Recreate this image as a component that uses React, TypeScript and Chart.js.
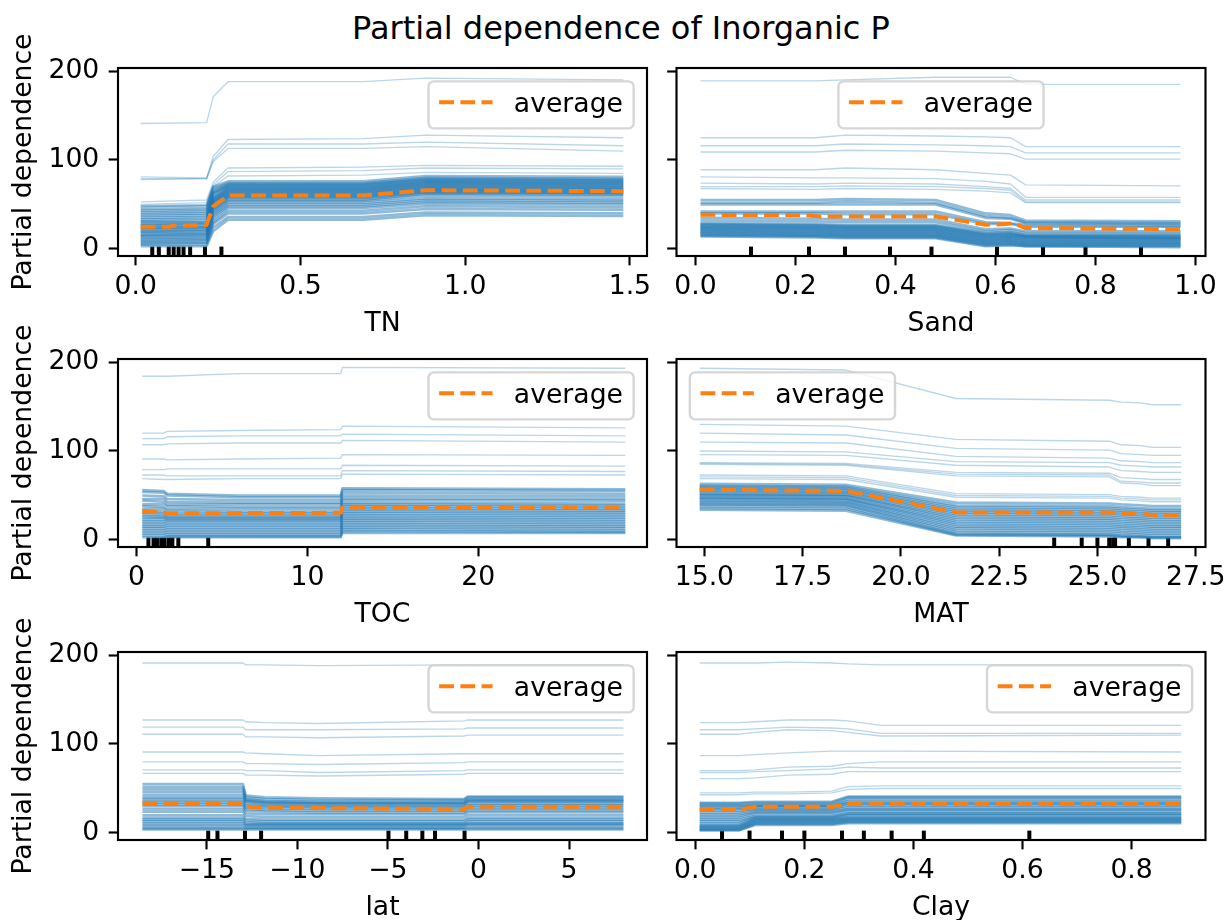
import React, { useEffect, useRef } from "react";
import { Chart, registerables } from "chart.js";

Chart.register(...registerables);

const FONT = "'DejaVu Sans', 'Liberation Sans', sans-serif";
const PT = 192 / 72;
const FS = 10 * PT;

// ---------------- data ----------------
const Y_TICKS = [0, 100, 200];
const Y_TICK_LABELS = ["0", "100", "200"];
const Y_MIN = -7.9;
const Y_MAX = 203.4;

// TN
const tnGrid = [0.015, 0.215, 0.235, 0.28, 0.69, 0.88, 1.48];
const tnOutliers = [
  [141, 142, 171, 188, 188, 192, 190],
  [81, 80, 104, 123, 124, 128, 125],
  [79, 79, 100, 118, 118, 120, 116],
  [78, 79, 98, 113, 113, 115, 110],
  [53, 55, 75, 91, 92, 94, 93],
  [50, 52, 72, 87, 88, 91, 90],
  [47, 49, 70, 82, 83, 86, 85],
];
const tnBand = [
  [3, 3, 20, 33, 33, 38, 37], [5, 5, 24, 36, 36, 41, 40], [6, 7, 28, 40, 40, 45, 44],
  [8, 8, 30, 43, 43, 48, 47], [9, 10, 33, 46, 46, 51, 50], [11, 11, 36, 48, 48, 53, 52],
  [12, 13, 38, 50, 50, 55, 54], [14, 14, 40, 52, 52, 57, 56], [15, 16, 42, 54, 54, 60, 59],
  [16, 17, 44, 55, 55, 62, 61], [18, 18, 45, 57, 57, 63, 62], [19, 20, 47, 58, 58, 64, 63],
  [20, 21, 48, 59, 59, 65, 64], [22, 22, 50, 60, 60, 66, 65], [23, 24, 51, 61, 61, 67, 66],
  [24, 25, 52, 62, 62, 68, 67], [26, 26, 53, 63, 63, 69, 68], [27, 28, 54, 64, 64, 70, 69],
  [28, 29, 55, 65, 65, 71, 70], [30, 30, 56, 66, 66, 72, 71], [31, 32, 57, 67, 67, 73, 72],
  [33, 34, 58, 68, 68, 74, 73], [35, 36, 60, 69, 69, 75, 74], [37, 38, 62, 70, 70, 76, 75],
  [39, 40, 63, 71, 71, 77, 76], [41, 42, 64, 72, 72, 78, 77], [43, 44, 66, 73, 73, 79, 78],
  [45, 46, 68, 74, 74, 80, 79], [48, 49, 70, 76, 76, 82, 81],
];
const tnAvgX = [0.015, 0.105, 0.11, 0.215, 0.235, 0.28, 0.69, 0.88, 1.48];
const tnAvgY = [25, 25, 26, 27, 48, 60, 60, 66, 65];
const tnDeciles = [0.05, 0.07, 0.1, 0.115, 0.13, 0.145, 0.165, 0.21, 0.26];
const tnTicks = [0, 0.5, 1.0, 1.5];
const tnTickLabels = ["0.0", "0.5", "1.0", "1.5"];

// Sand
const sandGrid = [0.01, 0.24, 0.3, 0.48, 0.58, 0.63, 0.66, 0.97];
const sandOutliers = [
  [189, 189, 190, 193, 193, 193, 185, 185],
  [125, 125, 128, 127, 126, 125, 115, 115],
  [116, 116, 118, 117, 116, 115, 108, 108],
  [109, 109, 111, 110, 108, 107, 101, 101],
  [89, 89, 91, 89, 85, 83, 72, 71],
  [81, 80, 80, 79, 76, 73, 58, 58],
  [74, 73, 74, 73, 70, 68, 55, 55],
  [70, 70, 71, 70, 68, 66, 53, 53],
  [68, 67, 68, 67, 65, 63, 52, 52],
];
const sandBand = [
  [55, 55, 56, 55, 40, 38, 32, 31], [52, 52, 53, 52, 37, 35, 30, 29], [50, 50, 50, 50, 35, 34, 29, 28],
  [42, 42, 42, 42, 30, 29, 27, 26], [40, 40, 39, 39, 28, 28, 25, 25], [35, 34, 33, 33, 22, 23, 20, 20],
  [32, 31, 30, 30, 20, 21, 18, 18], [29, 28, 27, 27, 18, 19, 16, 16], [28, 27, 26, 26, 17, 18, 15, 15],
  [27, 26, 25, 25, 16, 17, 14, 14], [26, 25, 24, 24, 15, 16, 14, 13], [25, 24, 23, 23, 14, 15, 13, 12],
  [24, 23, 22, 22, 13, 14, 12, 12], [23, 22, 21, 21, 12, 13, 11, 11], [22, 21, 20, 20, 11, 12, 10, 10],
  [21, 20, 19, 19, 10, 11, 9, 9], [20, 19, 18, 18, 9, 10, 8, 8], [19, 18, 17, 17, 8, 9, 7, 7],
  [18, 17, 16, 16, 7, 8, 6, 6], [17, 16, 15, 15, 6, 7, 5, 5], [16, 15, 14, 14, 5, 6, 4, 4],
  [15, 14, 13, 13, 4, 5, 3, 3], [14, 13, 12, 12, 3, 4, 3, 2],
];
const sandAvgX = [0.01, 0.22, 0.25, 0.48, 0.58, 0.62, 0.635, 0.66, 0.97];
const sandAvgY = [38.4, 38, 36.6, 36.6, 27.2, 28, 29, 23.5, 22.4];
const sandDeciles = [0.111, 0.227, 0.299, 0.389, 0.472, 0.603, 0.695, 0.78, 0.891];
const sandTicks = [0, 0.2, 0.4, 0.6, 0.8, 1.0];
const sandTickLabels = ["0.0", "0.2", "0.4", "0.6", "0.8", "1.0"];

// TOC
const tocGrid = [0.34, 1.6, 1.8, 6.0, 11.95, 12.05, 28.6];
const tocOutliers = [
  [184, 184, 184, 187, 187, 194, 193],
  [120, 120, 122, 123, 124, 128, 126],
  [114, 114, 116, 117, 117, 119, 117],
  [107, 107, 108, 109, 109, 112, 110],
  [91, 91, 90, 91, 92, 96, 95],
  [79, 79, 80, 80, 80, 84, 83],
  [73, 73, 72, 72, 72, 78, 77],
  [69, 68, 68, 69, 69, 74, 73],
];
const tocBand = [
  [56, 55, 52, 50, 50, 58, 57], [54, 53, 50, 48, 48, 56, 55], [50, 49, 46, 45, 45, 53, 52],
  [46, 46, 43, 42, 42, 50, 49], [44, 43, 40, 40, 40, 47, 46], [40, 40, 38, 37, 37, 45, 44],
  [38, 37, 35, 35, 35, 42, 41], [35, 35, 33, 32, 32, 40, 39], [33, 32, 30, 30, 30, 38, 37],
  [31, 30, 28, 28, 28, 36, 35], [29, 28, 26, 26, 26, 34, 33], [27, 26, 25, 25, 25, 32, 31],
  [25, 25, 23, 23, 23, 30, 29], [23, 23, 22, 22, 22, 28, 27], [21, 21, 20, 20, 20, 26, 25],
  [19, 19, 18, 18, 18, 24, 23], [17, 17, 16, 16, 16, 22, 21], [15, 15, 14, 14, 14, 20, 19],
  [13, 13, 12, 12, 12, 18, 17], [11, 11, 10, 10, 10, 16, 15], [9, 9, 8, 8, 8, 14, 13],
  [7, 7, 6, 6, 6, 12, 11], [5, 5, 4, 4, 4, 10, 9], [3, 3, 3, 3, 3, 8, 8],
];
const tocAvgX = [0.34, 1.6, 1.8, 11.95, 12.05, 28.6];
const tocAvgY = [32, 31, 30, 30.5, 36.6, 36.6];
const tocDeciles = [0.7, 1.0, 1.2, 1.45, 1.65, 1.9, 2.1, 2.45, 4.2];
const tocTicks = [0, 10, 20];
const tocTickLabels = ["0", "10", "20"];

// MAT
const matGrid = [14.88, 18.6, 21.4, 25.3, 25.6, 26.1, 26.4, 27.13];
const matOutliers = [
  [193, 191, 159, 157, 155, 154, 152, 152],
  [130, 128, 113, 111, 107, 106, 104, 104],
  [120, 118, 103, 101, 97, 96, 95, 95],
  [110, 109, 94, 92, 89, 88, 87, 87],
  [100, 99, 88, 87, 84, 83, 82, 82],
  [96, 95, 84, 82, 78, 77, 76, 76],
  [87, 86, 76, 75, 70, 69, 68, 68],
  [86, 85, 74, 73, 66, 65, 64, 64],
  [85, 84, 72, 71, 64, 63, 61, 61],
  [73, 72, 52, 51, 49, 48, 47, 47],
  [71, 70, 50, 49, 47, 46, 45, 45],
  [69, 68, 48, 47, 45, 44, 43, 43],
];
const matBand = [
  [63, 62, 42, 41, 40, 39, 38, 38], [61, 60, 39, 38, 37, 36, 35, 35], [60, 59, 37, 36, 35, 34, 33, 33],
  [58, 57, 35, 34, 33, 32, 31, 31], [57, 56, 33, 32, 31, 30, 29, 29], [55, 54, 31, 30, 29, 28, 27, 27],
  [54, 53, 29, 28, 27, 26, 25, 25], [52, 51, 27, 26, 25, 24, 23, 23], [51, 50, 25, 24, 23, 22, 21, 21],
  [50, 49, 23, 22, 21, 20, 19, 19], [48, 47, 21, 20, 19, 18, 17, 17], [47, 46, 19, 18, 17, 16, 15, 15],
  [46, 45, 17, 16, 15, 14, 13, 13], [44, 43, 15, 14, 13, 12, 11, 11], [43, 42, 13, 12, 11, 10, 9, 9],
  [41, 40, 11, 10, 9, 8, 7, 7], [40, 39, 9, 8, 7, 6, 5, 5], [38, 37, 7, 6, 5, 4, 3, 3],
  [36, 35, 6, 5, 4, 3, 3, 3], [34, 33, 5, 4, 3, 3, 2, 2],
];
const matAvgX = [14.88, 18.6, 21.4, 25.3, 25.6, 26.1, 26.4, 27.13];
const matAvgY = [56.5, 55, 31, 31, 30, 29.5, 28, 28];
const matDeciles = [23.9, 24.6, 25.0, 25.3, 25.4, 25.45, 25.8, 26.3, 26.8];
const matTicks = [15, 17.5, 20, 22.5, 25, 27.5];
const matTickLabels = ["15.0", "17.5", "20.0", "22.5", "25.0", "27.5"];

// lat
const latGrid = [-18.55, -13.0, -12.85, -11.8, -8.8, -0.8, -0.6, 8.0];
const latOutliers = [
  [191, 191, 189, 189, 188, 189, 189, 189],
  [127, 127, 125, 124, 123, 126, 127, 127],
  [119, 119, 116, 116, 116, 117, 118, 118],
  [111, 111, 108, 108, 107, 109, 110, 110],
  [91, 91, 90, 89, 87, 89, 89, 89],
  [80, 80, 78, 78, 77, 79, 80, 80],
  [71, 71, 70, 70, 68, 70, 71, 71],
  [67, 67, 65, 65, 64, 66, 67, 67],
];
const latBand = [
  [55, 55, 42, 40, 39, 38, 41, 41], [52, 52, 40, 38, 37, 37, 40, 40], [49, 49, 38, 36, 35, 35, 38, 38],
  [46, 46, 37, 35, 34, 34, 37, 37], [43, 43, 36, 34, 33, 33, 36, 36], [40, 40, 35, 33, 32, 32, 35, 35],
  [38, 38, 33, 31, 30, 30, 33, 33], [36, 36, 31, 30, 29, 29, 31, 31], [34, 34, 29, 28, 27, 27, 29, 29],
  [32, 32, 27, 26, 25, 25, 27, 27], [30, 30, 25, 24, 23, 23, 25, 25], [27, 27, 22, 21, 21, 21, 23, 23],
  [24, 24, 19, 18, 18, 18, 20, 20], [20, 20, 16, 15, 15, 15, 17, 17], [17, 17, 14, 13, 13, 13, 15, 15],
  [15, 15, 12, 11, 11, 11, 13, 13], [13, 13, 10, 10, 10, 10, 11, 11], [11, 11, 9, 9, 9, 9, 10, 10],
  [9, 9, 8, 8, 8, 8, 9, 9], [7, 7, 6, 6, 6, 6, 7, 7], [5, 5, 5, 5, 5, 5, 5, 5], [4, 4, 4, 4, 4, 4, 4, 4],
];
const latAvgX = [-18.55, -13.0, -12.85, -11.8, -8.8, -0.8, -0.6, 8.0];
const latAvgY = [33.5, 33.5, 30, 28, 28, 27, 29.5, 29.5];
const latDeciles = [-14.92, -14.41, -12.89, -12.0, -4.97, -3.99, -3.1, -2.4, -0.77];
const latTicks = [-15, -10, -5, 0, 5];
const latTickLabels = ["\u221215", "\u221210", "\u22125", "0", "5"];

// Clay
const clayGrid = [0.008, 0.08, 0.11, 0.17, 0.25, 0.28, 0.34, 0.891];
const clayOutliers = [
  [191, 191, 191, 192, 191, 190, 189, 189],
  [124, 124, 125, 127, 127, 126, 121, 121],
  [116, 116, 117, 119, 118, 117, 112, 112],
  [111, 111, 113, 116, 115, 113, 109, 110],
  [87, 87, 88, 90, 92, 92, 92, 91],
  [70, 70, 71, 74, 75, 78, 80, 80],
  [68, 68, 69, 70, 72, 74, 73, 73],
  [61, 61, 62, 65, 66, 69, 69, 69],
  [45, 45, 46, 46, 47, 52, 53, 53],
  [43, 43, 44, 44, 45, 49, 50, 50],
];
const clayBand = [
  [34, 34, 35, 35, 35, 41, 41, 41], [33, 33, 34, 34, 34, 40, 40, 40], [31, 31, 32, 32, 32, 38, 38, 38],
  [30, 30, 31, 31, 31, 36, 36, 36], [28, 28, 30, 30, 30, 34, 34, 34], [27, 27, 29, 29, 29, 33, 33, 33],
  [25, 25, 27, 27, 27, 31, 31, 31], [23, 23, 26, 26, 26, 29, 29, 29], [21, 21, 24, 24, 24, 27, 27, 27],
  [19, 19, 23, 23, 23, 26, 26, 26], [17, 17, 21, 21, 21, 24, 24, 24], [15, 15, 19, 19, 19, 22, 22, 22],
  [13, 13, 18, 18, 18, 21, 21, 21], [11, 11, 17, 17, 17, 20, 20, 20], [9, 9, 16, 16, 16, 18, 18, 18],
  [8, 8, 15, 15, 15, 17, 17, 17], [7, 7, 14, 14, 14, 16, 16, 16], [6, 6, 13, 13, 13, 15, 15, 15],
  [5, 5, 12, 12, 12, 14, 14, 14], [4, 4, 11, 11, 11, 13, 13, 13], [3, 3, 10, 10, 10, 12, 12, 12],
  [3, 3, 9, 9, 9, 11, 11, 11],
];
const clayAvgX = [0.008, 0.08, 0.11, 0.25, 0.28, 0.891];
const clayAvgY = [26, 26, 29.5, 29.5, 32.5, 32.5];
const clayDeciles = [0.049, 0.0995, 0.159, 0.2, 0.269, 0.309, 0.36, 0.419, 0.6125];
const clayTicks = [0, 0.2, 0.4, 0.6, 0.8];
const clayTickLabels = ["0.0", "0.2", "0.4", "0.6", "0.8"];

// ---------------- panels ----------------
type Panel = {
  label: string;
  grid: number[];
  outliers: number[][];
  band: number[][];
  avgX: number[];
  avgY: number[];
  deciles: number[];
  xMin: number;
  xMax: number;
  ticks: number[];
  tickLabels: string[];
  legend: "ur" | "uc" | "ul";
};

const PANELS: Panel[] = [
  { label: "TN", grid: tnGrid, outliers: tnOutliers, band: tnBand, avgX: tnAvgX, avgY: tnAvgY, deciles: tnDeciles, xMin: -0.054, xMax: 1.552, ticks: tnTicks, tickLabels: tnTickLabels, legend: "ur" },
  { label: "Sand", grid: sandGrid, outliers: sandOutliers, band: sandBand, avgX: sandAvgX, avgY: sandAvgY, deciles: sandDeciles, xMin: -0.038, xMax: 1.02, ticks: sandTicks, tickLabels: sandTickLabels, legend: "uc" },
  { label: "TOC", grid: tocGrid, outliers: tocOutliers, band: tocBand, avgX: tocAvgX, avgY: tocAvgY, deciles: tocDeciles, xMin: -1.08, xMax: 29.87, ticks: tocTicks, tickLabels: tocTickLabels, legend: "ur" },
  { label: "MAT", grid: matGrid, outliers: matOutliers, band: matBand, avgX: matAvgX, avgY: matAvgY, deciles: matDeciles, xMin: 14.29, xMax: 27.75, ticks: matTicks, tickLabels: matTickLabels, legend: "ul" },
  { label: "lat", grid: latGrid, outliers: latOutliers, band: latBand, avgX: latAvgX, avgY: latAvgY, deciles: latDeciles, xMin: -19.9, xMax: 9.3, ticks: latTicks, tickLabels: latTickLabels, legend: "ur" },
  { label: "Clay", grid: clayGrid, outliers: clayOutliers, band: clayBand, avgX: clayAvgX, avgY: clayAvgY, deciles: clayDeciles, xMin: -0.0345, xMax: 0.9355, ticks: clayTicks, tickLabels: clayTickLabels, legend: "ur" },
];

// ---------------- layout ----------------
const AX_LEFT = [118, 676.5];
const AX_RIGHT = [647, 1205.5];
const AX_TOP = [68, 359, 652];
const AX_H = 188;
const CANVAS_LEFT = [0, 655];
const CANVAS_W = [660, 574];
const PAD_T = 40;
const X_AXIS_H = 84;
const CANVAS_H = 314;

function roundRectPath(ctx: CanvasRenderingContext2D, x: number, y: number, w: number, h: number, r: number) {
  ctx.beginPath();
  ctx.moveTo(x + r, y);
  ctx.lineTo(x + w - r, y);
  ctx.arcTo(x + w, y, x + w, y + r, r);
  ctx.lineTo(x + w, y + h - r);
  ctx.arcTo(x + w, y + h, x + w - r, y + h, r);
  ctx.lineTo(x + r, y + h);
  ctx.arcTo(x, y + h, x, y + h - r, r);
  ctx.lineTo(x, y + r);
  ctx.arcTo(x, y, x + r, y, r);
  ctx.closePath();
}

const decorPlugin = {
  id: "pdDecor",
  beforeDatasetsDraw(chart: any, _args: any, opts: any) {
    const { ctx, chartArea } = chart;
    const xs = chart.scales.x;
    const h = (chartArea.bottom - chartArea.top) * 0.05;
    ctx.save();
    ctx.strokeStyle = "#000";
    ctx.lineWidth = 1.5 * PT;
    for (const d of opts.deciles as number[]) {
      const px = xs.getPixelForValue(d);
      ctx.beginPath();
      ctx.moveTo(px, chartArea.bottom);
      ctx.lineTo(px, chartArea.bottom - h);
      ctx.stroke();
    }
    ctx.restore();
  },
  afterDatasetsDraw(chart: any, _args: any, opts: any) {
    const { ctx, chartArea } = chart;
    ctx.save();
    // spines
    ctx.strokeStyle = "#000";
    ctx.lineWidth = 0.8 * PT;
    ctx.strokeRect(chartArea.left, chartArea.top, chartArea.right - chartArea.left, chartArea.bottom - chartArea.top);
    // legend
    const em = FS;
    const w = 0.4 * em + 2.0 * em + 0.8 * em + 4.094 * em + 0.4 * em;
    const h = 47;
    const gap = 0.5 * em;
    let left: number;
    if (opts.legend === "ur") left = chartArea.right - gap - w;
    else if (opts.legend === "ul") left = chartArea.left + gap;
    else left = (chartArea.left + chartArea.right) / 2 - w / 2;
    const top = chartArea.top + gap;
    roundRectPath(ctx, left, top, w, h, 0.2 * em);
    ctx.fillStyle = "rgba(255,255,255,0.8)";
    ctx.fill();
    ctx.strokeStyle = "rgba(204,204,204,0.8)";
    ctx.lineWidth = 2.4;
    ctx.stroke();
    ctx.strokeStyle = "#ff7f0e";
    ctx.lineWidth = 1.5 * PT;
    ctx.lineCap = "butt";
    ctx.setLineDash([3.7 * 1.5 * PT, 1.6 * 1.5 * PT]);
    ctx.beginPath();
    ctx.moveTo(left + 0.4 * em, top + 21);
    ctx.lineTo(left + 2.4 * em, top + 21);
    ctx.stroke();
    ctx.setLineDash([]);
    ctx.fillStyle = "#000";
    ctx.font = `${em}px ${FONT}`;
    ctx.textBaseline = "alphabetic";
    ctx.textAlign = "left";
    ctx.fillText("average", left + 3.2 * em, top + 30.5);
    ctx.restore();
  },
};

function PanelChart({ panel, row, col }: { panel: Panel; row: number; col: number }) {
  const ref = useRef<HTMLCanvasElement>(null);
  const canvasLeft = CANVAS_LEFT[col];
  const canvasTop = AX_TOP[row] - PAD_T;
  const width = CANVAS_W[col];
  const yW = AX_LEFT[col] - canvasLeft;
  const padR = canvasLeft + width - AX_RIGHT[col];
  const padB = CANVAS_H - PAD_T - AX_H - X_AXIS_H;

  useEffect(() => {
    const canvas = ref.current;
    if (!canvas) return;
    const datasets: any[] = [];
    datasets.push({
      data: panel.avgX.map((x, i) => ({ x, y: panel.avgY[i] })),
      borderColor: "#ff7f0e",
      borderWidth: 1.5 * PT,
      borderDash: [3.7 * 1.5 * PT, 1.6 * 1.5 * PT],
      borderCapStyle: "butt",
      borderJoinStyle: "round",
      pointRadius: 0,
      fill: false,
      tension: 0,
    });
    panel.outliers.forEach((line) => {
      datasets.push({
        data: panel.grid.map((x, i) => ({ x, y: line[i] })),
        borderColor: "rgba(31,119,180,0.3)",
        borderWidth: 0.5 * PT,
        borderJoinStyle: "round",
        pointRadius: 0,
        fill: false,
        tension: 0,
      });
    });
    panel.band.forEach((line) => {
      datasets.push({
        data: panel.grid.map((x, i) => ({ x, y: line[i] })),
        borderColor: "rgba(31,119,180,0.5)",
        borderWidth: 2.6,
        borderJoinStyle: "round",
        pointRadius: 0,
        fill: false,
        tension: 0,
      });
    });

    const tickFont = { family: FONT, size: FS };
    const chart = new Chart(canvas, {
      type: "line",
      data: { datasets },
      plugins: [decorPlugin],
      options: {
        animation: false,
        responsive: false,
        devicePixelRatio: 1,
        events: [],
        layout: { padding: { left: 0, right: padR, top: PAD_T, bottom: padB }, autoPadding: false },
        plugins: {
          legend: { display: false },
          tooltip: { enabled: false },
          title: { display: false },
          pdDecor: { deciles: panel.deciles, legend: panel.legend },
        } as any,
        scales: {
          x: {
            type: "linear",
            position: "bottom",
            min: panel.xMin,
            max: panel.xMax,
            afterBuildTicks: (s: any) => {
              s.ticks = panel.ticks.map((v) => ({ value: v }));
            },
            afterFit: (s: any) => {
              s.height = X_AXIS_H;
              s.paddingLeft = 0;
              s.paddingRight = 0;
            },
            ticks: {
              autoSkip: false,
              maxRotation: 0,
              minRotation: 0,
              padding: 5.6,
              color: "#000",
              font: tickFont,
              callback: (v: any) => {
                const i = panel.ticks.findIndex((t) => Math.abs(t - Number(v)) < 1e-9);
                return i >= 0 ? panel.tickLabels[i] : "";
              },
            },
            grid: { display: true, drawOnChartArea: false, drawTicks: true, tickLength: 3.5 * PT, tickWidth: 0.8 * PT, tickColor: "#000" },
            border: { display: false },
            title: { display: true, text: panel.label, color: "#000", font: tickFont, padding: { top: 0, bottom: 0 } },
          },
          y: {
            type: "linear",
            position: "left",
            min: Y_MIN,
            max: Y_MAX,
            afterBuildTicks: (s: any) => {
              s.ticks = Y_TICKS.map((v) => ({ value: v }));
            },
            afterFit: (s: any) => {
              s.width = yW;
              s.paddingTop = 0;
              s.paddingBottom = 0;
            },
            ticks: {
              display: col === 0,
              padding: 3.5 * PT,
              color: "#000",
              font: tickFont,
              callback: (v: any) => {
                const i = Y_TICKS.findIndex((t) => Math.abs(t - Number(v)) < 1e-9);
                return i >= 0 ? Y_TICK_LABELS[i] : "";
              },
            },
            grid: { display: true, drawOnChartArea: false, drawTicks: true, tickLength: 3.5 * PT, tickWidth: 0.8 * PT, tickColor: "#000" },
            border: { display: false },
            title: { display: col === 0, text: "Partial dependence", color: "#000", font: tickFont, padding: { top: 7.6, bottom: 0 } },
          },
        },
      } as any,
    });
    return () => chart.destroy();
  }, []);

  return (
    <canvas
      ref={ref}
      width={width}
      height={CANVAS_H}
      style={{ position: "absolute", left: canvasLeft, top: canvasTop, width, height: CANVAS_H }}
    />
  );
}

export default function App() {
  return (
    <div style={{ position: "absolute", left: 0, top: 0, width: 1229, height: 920, overflow: "hidden", background: "#fff" }}>
      <div
        style={{
          position: "absolute",
          left: 0,
          top: 12,
          width: 1242,
          textAlign: "center",
          fontFamily: FONT,
          fontSize: 12 * PT,
          lineHeight: `${12 * PT}px`,
          color: "#000",
          whiteSpace: "nowrap",
        }}
      >
        Partial dependence of Inorganic P
      </div>
      {PANELS.map((p, i) => (
        <PanelChart key={p.label} panel={p} row={Math.floor(i / 2)} col={i % 2} />
      ))}
    </div>
  );
}
